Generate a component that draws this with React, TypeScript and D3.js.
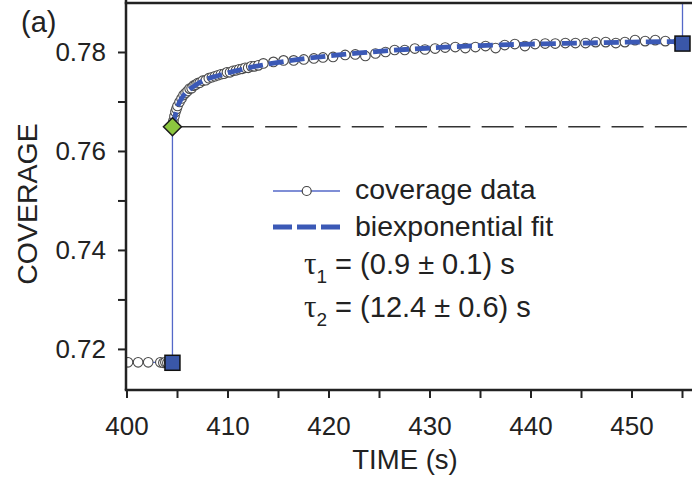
import React from "react";
import * as d3 from "d3";

// ---- data ----
const preJumpTimes = [400.1, 401.1, 402.1, 403.3, 403.6, 403.8, 404.0, 404.2, 404.4, 404.5];
const preJumpValues = [0.7174, 0.7174, 0.7174, 0.7174, 0.7173, 0.7174, 0.7173, 0.7174, 0.7173, 0.7173];

const postJumpTimes = [
  404.5, 404.6, 404.7, 404.8, 404.9, 405.0, 405.2, 405.4, 405.6, 405.8, 406.0, 406.2, 406.4,
  406.6, 406.8, 407.0, 407.2, 407.5, 407.8, 408.1, 408.4, 408.7, 409.0, 409.3, 409.6, 409.9,
  410.2, 410.5, 410.8, 411.1, 411.4, 411.7, 412.0, 412.3, 412.6, 413.0,
  413.5, 414.5, 415.5, 416.5, 417.5, 418.5, 419.4, 420.4,
  421.6, 422.6, 423.6, 424.6, 425.6, 426.5, 427.5, 428.5, 429.5, 430.5, 431.5, 432.5, 433.5,
  434.5, 435.5, 436.5, 437.4, 438.4, 439.4, 440.4, 441.4, 442.4, 443.4, 444.4, 445.4, 446.4,
  447.4, 448.4, 449.3, 450.3, 451.3, 452.3, 453.3, 454.6, 454.9,
];
const postJumpValues = [
  0.7652, 0.7662, 0.7671, 0.768, 0.7686, 0.7692, 0.77, 0.7707, 0.7714, 0.7718, 0.7722, 0.7727, 0.7728,
  0.7733, 0.7735, 0.7738, 0.7739, 0.7743, 0.7744, 0.7748, 0.775, 0.7752, 0.7754, 0.7756, 0.7757, 0.776,
  0.776, 0.7763, 0.7764, 0.7766, 0.7767, 0.7769, 0.7769, 0.7772, 0.7772, 0.7774,
  0.7778, 0.7781, 0.7784, 0.7784, 0.7786, 0.7788, 0.779, 0.7791,
  0.7795, 0.7796, 0.7793, 0.7798, 0.7801, 0.7805, 0.7805, 0.7808, 0.7806, 0.7808, 0.781, 0.7811, 0.7809,
  0.7811, 0.7813, 0.7809, 0.7815, 0.7817, 0.7813, 0.7817, 0.7818, 0.7818, 0.7819, 0.7819, 0.7819, 0.7821,
  0.7821, 0.7819, 0.7821, 0.7825, 0.7823, 0.7825, 0.7823, 0.7822, 0.7818,
];
// next jump (goes off the top of the panel)
const nextJumpTimes = [455.0];
const nextJumpValues = [0.795];

const fitTimes = [404.5, 404.8, 405.0, 405.5, 406.0, 406.5, 407.0, 408.0, 409.0, 410.0, 411.0, 412.0, 413.0,
  415.0, 417.0, 420.0, 423.0, 426.0, 430.0, 435.0, 440.0, 445.0, 450.0, 454.9];
const fitValues = [0.765, 0.7675, 0.769, 0.771, 0.7722, 0.773, 0.7737, 0.7747, 0.7753, 0.7759, 0.7764, 0.7769, 0.7773,
  0.778, 0.7786, 0.7793, 0.7799, 0.7804, 0.7809, 0.7814, 0.7817, 0.7819, 0.7821, 0.7822];

const squareTimes = [404.5, 455.0];
const squareValues = [0.7173, 0.7818];
const diamondTime = 404.5;
const diamondValue = 0.765;
const baselineLevel = 0.765;

const xTicks = [400, 410, 420, 430, 440, 450];
const xMinorTicks = [405, 415, 425, 435, 445, 455];
const yTicks = [0.72, 0.74, 0.76, 0.78];
const yMinorTicks = [0.73, 0.75, 0.77];

const legendLabels = ["coverage data", "biexponential fit"];
const tauLabels = [
  { sub: "1", text: " = (0.9 ± 0.1) s" },
  { sub: "2", text: " = (12.4 ± 0.6) s" },
];

const W = 692;
const H = 482;
const L = 126;
const R = 692;
const T = 3;
const B = 390;

const FONT = "'Liberation Sans', Arial, Helvetica, sans-serif";
const INK = "#222";
const DATA_BLUE = "#5468c8";
const FIT_BLUE = "#3b59b6";

export default function App() {
  const x = d3.scaleLinear().domain([400, 456]).range([127, 127 + 56 * 10.1]);
  const y = d3.scaleLinear().domain([0.7118, 0.79]).range([B, T]);

  const dataPts: [number, number][] = [
    ...preJumpTimes.map((t, i) => [t, preJumpValues[i]] as [number, number]),
    ...postJumpTimes.map((t, i) => [t, postJumpValues[i]] as [number, number]),
    ...squareTimes.slice(1).map((t, i) => [t, squareValues[i + 1]] as [number, number]),
    ...nextJumpTimes.map((t, i) => [t, nextJumpValues[i]] as [number, number]),
  ];
  const circlePts: [number, number][] = [
    ...preJumpTimes.slice(0, -1).map((t, i) => [t, preJumpValues[i]] as [number, number]),
    ...postJumpTimes.slice(1).map((t, i) => [t, postJumpValues[i + 1]] as [number, number]),
  ];
  const fitPts: [number, number][] = fitTimes.map((t, i) => [t, fitValues[i]]);

  const line = d3
    .line<[number, number]>()
    .x((d) => x(d[0]))
    .y((d) => y(d[1]));
  const smooth = d3
    .line<[number, number]>()
    .x((d) => x(d[0]))
    .y((d) => y(d[1]))
    .curve(d3.curveMonotoneX);

  const dx = x(diamondTime);
  const dy = y(diamondValue);
  const ds = 9;

  return (
    <svg
      width={W}
      height={H}
      style={{ position: "absolute", left: 0, top: 0, background: "#fff" }}
      fontFamily={FONT}
    >
      <defs>
        <clipPath id="plot">
          <rect x={L} y={T} width={R - L} height={B - T} />
        </clipPath>
      </defs>

      <g clipPath="url(#plot)">
        {/* dashed baseline level */}
        <line
          x1={x(diamondTime)}
          x2={R}
          y1={y(baselineLevel)}
          y2={y(baselineLevel)}
          stroke="#333"
          strokeWidth={1.6}
          strokeDasharray="32,11.3"
          strokeDashoffset={37.2}
        />
        {/* data line */}
        <path d={line(dataPts) || ""} fill="none" stroke={DATA_BLUE} strokeWidth={1.3} />
        {/* data circles */}
        {circlePts.map((d, i) => (
          <circle key={i} cx={x(d[0])} cy={y(d[1])} r={4.8} fill="#fff" stroke="#4a4a4a" strokeWidth={1.1} />
        ))}
        {/* fit */}
        <path
          d={smooth(fitPts) || ""}
          fill="none"
          stroke={FIT_BLUE}
          strokeWidth={4.8}
          strokeDasharray="15,6"
        />
        {/* squares */}
        {squareTimes.map((t, i) => (
          <rect
            key={i}
            x={x(t) - 7.5}
            y={y(squareValues[i]) - 7.5}
            width={15}
            height={15}
            fill="#3a57a8"
            stroke="#111"
            strokeWidth={1.5}
          />
        ))}
        {/* diamond */}
        <path
          d={`M${dx},${dy - ds}L${dx + ds},${dy}L${dx},${dy + ds}L${dx - ds},${dy}Z`}
          fill="#8cc63f"
          stroke="#1a1a1a"
          strokeWidth={1.5}
        />
      </g>

      {/* frame */}
      <line x1={L} x2={L} y1={0} y2={B} stroke={INK} strokeWidth={2.5} />
      <line x1={L - 1.25} x2={R} y1={B} y2={B} stroke={INK} strokeWidth={2.5} />
      <line x1={L - 1.25} x2={R} y1={T} y2={T} stroke={INK} strokeWidth={2.5} />

      {/* x ticks */}
      {[...xTicks, ...xMinorTicks].map((t) => (
        <line key={"xt" + t} x1={x(t)} x2={x(t)} y1={B} y2={B + 8} stroke={INK} strokeWidth={2} />
      ))}
      {xTicks.map((t) => (
        <text key={"xl" + t} x={x(t)} y={435} textAnchor="middle" fontSize={26} fill={INK}>
          {t}
        </text>
      ))}
      {/* y ticks */}
      {[...yTicks, ...yMinorTicks].map((v) => (
        <line key={"yt" + v} x1={L - 8} x2={L} y1={y(v)} y2={y(v)} stroke={INK} strokeWidth={2} />
      ))}
      {yTicks.map((v) => (
        <text key={"yl" + v} x={106} y={y(v) + 9} textAnchor="end" fontSize={26} fill={INK}>
          {d3.format(".2f")(v)}
        </text>
      ))}

      {/* axis titles */}
      <text x={405} y={469} textAnchor="middle" fontSize={27.5} fill={INK}>
        TIME (s)
      </text>
      <text transform="translate(37,204) rotate(-90)" textAnchor="middle" fontSize={28.5} fill={INK}>
        COVERAGE
      </text>
      <text x={21} y={32} fontSize={29} fill={INK}>
        (a)
      </text>

      {/* legend */}
      <line x1={273} x2={340} y1={191} y2={191} stroke={DATA_BLUE} strokeWidth={1.5} />
      <circle cx={306.7} cy={191} r={4.5} fill="#fff" stroke="#444" strokeWidth={1.2} />
      <text x={355} y={198.5} fontSize={28.5} fill={INK}>
        {legendLabels[0]}
      </text>
      <line
        x1={273}
        x2={340}
        y1={227}
        y2={227}
        stroke={FIT_BLUE}
        strokeWidth={5}
        strokeDasharray="19,5"
      />
      <text x={355} y={235.5} fontSize={28.5} fill={INK}>
        {legendLabels[1]}
      </text>
      {tauLabels.map((tl, i) => (
        <text key={i} x={304} y={273.5 + i * 43} fontSize={29} fill={INK}>
          <tspan fontFamily="'Liberation Serif', 'Times New Roman', serif" fontSize={31}>
            τ
          </tspan>
          <tspan fontSize={19} dy={9}>
            {tl.sub}
          </tspan>
          <tspan dy={-9}>{tl.text}</tspan>
        </text>
      ))}
    </svg>
  );
}
